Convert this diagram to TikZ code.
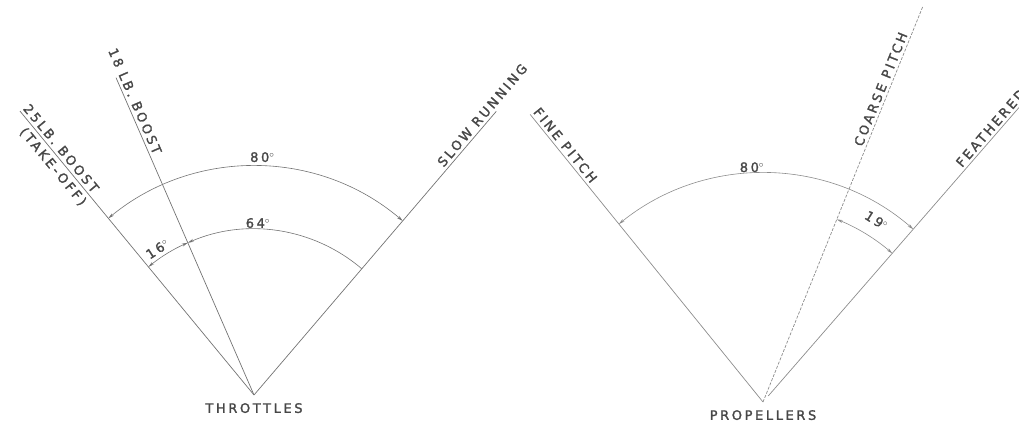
\documentclass[tikz,border=0pt]{standalone}
\usepackage{fontspec}
\setmainfont{DejaVu Sans}[LetterSpace=20, FakeBold=1.6]
\usetikzlibrary{positioning,arrows.meta,calc}

\begin{document}
\begin{tikzpicture}[
  x=1pt, y=1pt, >={Stealth[length=6pt,width=3pt]},
  font=\fontsize{13}{15}\selectfont, text=black!72,
  ray/.style={draw=black!55, line width=0.7pt},
  dimarc/.style={draw=black!55, line width=0.6pt},
  along/.style={inner sep=3pt},
]
\useasboundingbox (0,0) rectangle (1019,426);

% throttles
\coordinate (thr) at (254,31);
\coordinate (slow) at ($(thr)+(49.5:373)$);
\coordinate (boostA) at ($(thr)+(113.5:346)$);
\coordinate (boostB) at ($(thr)+(129.5:368)$);
\draw[ray] (thr) -- (slow);
\draw[ray] (thr) -- (boostA);
\draw[ray] (thr) -- (boostB);
\node[below=8pt of thr, inner sep=0pt] (thrlbl) {THROTTLES};

\node[along, rotate=49.5, anchor=south] (slowlbl) at ($(thr)+(49.5:361)$) {SLOW RUNNING};
\node[along, rotate=-66.5, anchor=south] (boostAlbl) at ($(thr)+(113.5:317)$) {18 LB. BOOST};
\node[along, rotate=-50.5, anchor=south] (boostBlbl) at ($(thr)+(129.5:313)$) {25LB. BOOST};
\node[inner sep=4pt, rotate=-50.5, anchor=north] (tkofflbl) at ($(thr)+(129.5:304)$) {(TAKE-OFF)};

\draw[dimarc, <->] ($(thr)+(129.5:229)$) arc[start angle=129.5, end angle=49.5, radius=229];
\draw[dimarc, ->] ($(thr)+(49.5:166)$) arc[start angle=49.5, end angle=113.5, radius=166];
\draw[dimarc, <->] ($(thr)+(129.5:166)$) arc[start angle=129.5, end angle=113.5, radius=166];
\node (thrA) at ($(thr)+(88:238)$) {80$^\circ$};
\node (thrB) at ($(thr)+(88.7:172)$) {64$^\circ$};
\node[rotate=33] (thrC) at ($(thr)+(123.5:175)$) {16$^\circ$};

% propellers
\coordinate (prop) at (763,24);
\coordinate (fine) at ($(prop)+(129:370)$);
\coordinate (coarse) at ($(prop)+(68:426)$);
\coordinate (feathA) at ($(prop)+(49:8)$);
\coordinate (feathB) at ($(prop)+(49:400)$);
\draw[ray, draw=black!45] (prop) -- (fine);
\draw[ray, draw=black!45, dash pattern=on 3pt off 1.5pt] (prop) -- (coarse);
\draw[ray, draw=black!45] (feathA) -- (feathB);
\node[below=8pt of prop, inner sep=0pt] (proplbl) {PROPELLERS};

\node[along, rotate=-51, anchor=south] (finelbl) at ($(prop)+(129:324)$) {FINE PITCH};
\node[along, rotate=68, anchor=south] (coarselbl) at ($(prop)+(68:334)$) {COARSE PITCH};
\node[along, rotate=49, anchor=south] (feathlbl) at ($(prop)+(49:356)$) {FEATHERED};

\draw[dimarc, draw=black!45, <->] ($(prop)+(129:229)$) arc[start angle=129, end angle=49, radius=229];
\draw[dimarc, draw=black!45, <->] ($(prop)+(68:197)$) arc[start angle=68, end angle=49, radius=197];
\node (propA) at ($(prop)+(92.7:235)$) {80$^\circ$};
\node[rotate=-32] (propB) at ($(prop)+(58:214)$) {19$^\circ$};
\end{tikzpicture}
\end{document}
